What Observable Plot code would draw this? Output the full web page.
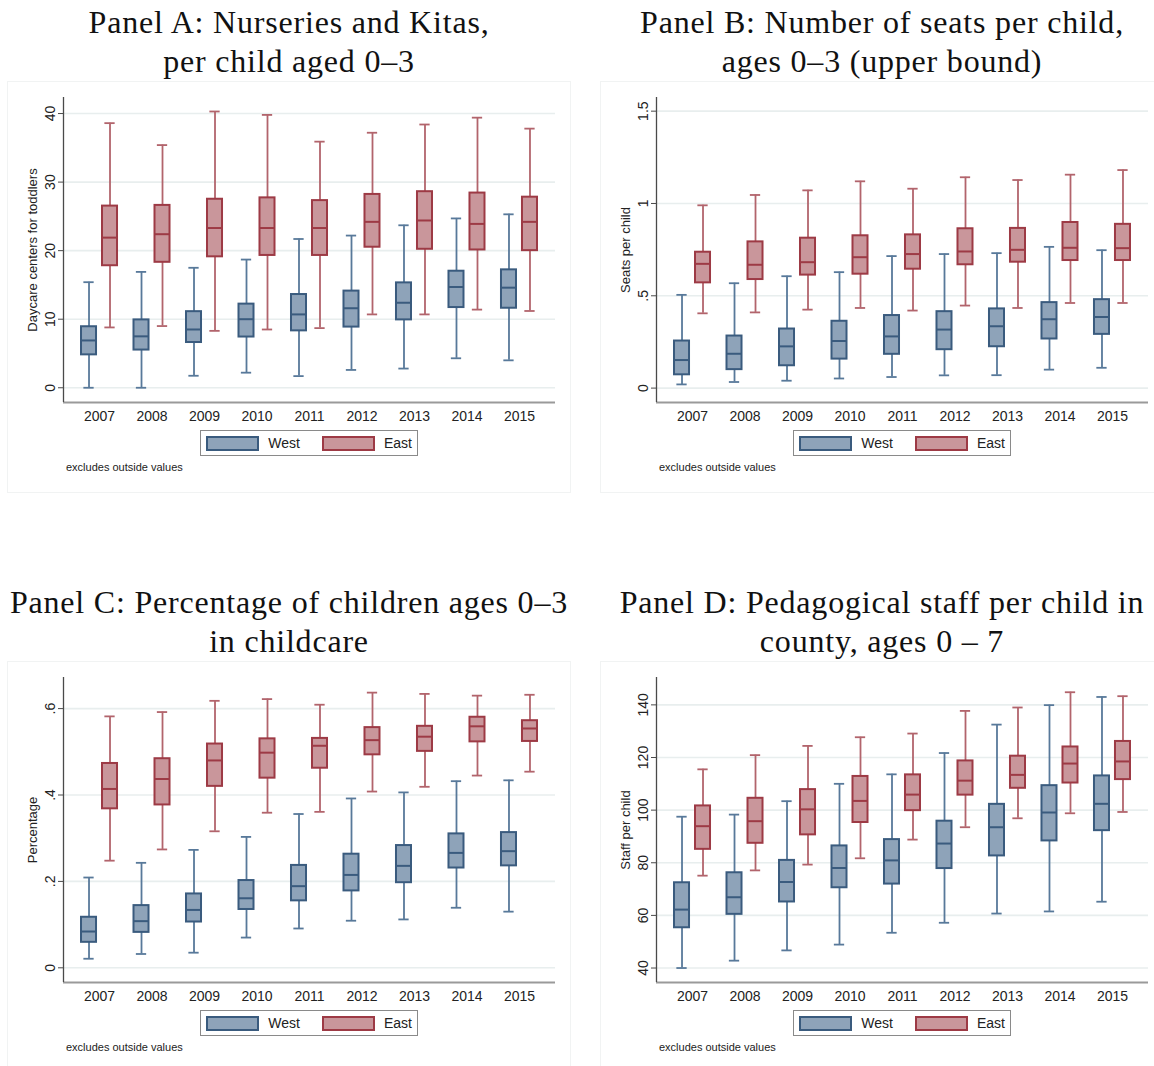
<!DOCTYPE html>
<html>
<head>
<meta charset="utf-8">
<script src="https://cdn.jsdelivr.net/npm/d3@7"></script>
<script src="https://cdn.jsdelivr.net/npm/@observablehq/plot@0.6"></script>
<style>
  html, body { margin: 0; padding: 0; background: #fff; }
  body { width: 1154px; height: 1066px; position: relative; overflow: hidden; }
  .title {
    position: absolute; width: 578px; text-align: center;
    font-family: "Liberation Serif", "DejaVu Serif", serif;
    font-size: 32px; line-height: 39px; letter-spacing: 0.8px; color: #111;
    white-space: nowrap;
  }
  .panel { position: absolute; width: 562px; height: 410px; outline: 1px solid #f1f3f3; }
  .panel svg { position: absolute; left: 0; top: 0; }
  .legend {
    position: absolute; height: 26px; border: 1px solid #8a8a8a; background: #fff;
    display: flex; align-items: center; padding: 0 5px; box-sizing: border-box;
    font-family: "Liberation Sans", Arial, sans-serif; font-size: 14px; color: #222;
  }
  .legend .sw { width: 50px; height: 11px; border: 2px solid; margin-right: 9px; }
  .legend .lab { margin-right: 22px; }
  .legend .lab:last-child { margin-right: 0; }
  .note {
    position: absolute; font-family: "Liberation Sans", Arial, sans-serif;
    font-size: 11px; color: #222;
  }
</style>
</head>
<body>
<script>
// Years on the x axis
const years = [2007, 2008, 2009, 2010, 2011, 2012, 2013, 2014, 2015];

// Panel A: daycare centers per child aged 0-3 (box plot summaries)
const aWestLo  = [0, 0, 1.75, 2.2, 1.7, 2.6, 2.8, 4.3, 4.0];
const aWestQ1  = [4.8, 5.5, 6.6, 7.4, 8.3, 8.85, 9.9, 11.7, 11.6];
const aWestMed = [6.9, 7.5, 8.5, 10.0, 10.7, 11.6, 12.4, 14.7, 14.6];
const aWestQ3  = [8.9, 9.9, 11.1, 12.2, 13.6, 14.1, 15.3, 17.0, 17.2];
const aWestHi  = [15.4, 16.9, 17.5, 18.7, 21.7, 22.2, 23.7, 24.7, 25.3];
const aEastLo  = [8.8, 9.0, 8.3, 8.5, 8.7, 10.7, 10.7, 11.4, 11.2];
const aEastQ1  = [17.8, 18.3, 19.1, 19.3, 19.3, 20.5, 20.2, 20.1, 20.0];
const aEastMed = [21.9, 22.4, 23.3, 23.3, 23.3, 24.2, 24.4, 23.9, 24.2];
const aEastQ3  = [26.5, 26.6, 27.5, 27.7, 27.3, 28.2, 28.6, 28.4, 27.8];
const aEastHi  = [38.6, 35.4, 40.3, 39.8, 35.9, 37.2, 38.4, 39.4, 37.8];

// Panel B: seats per child aged 0-3
const bWestLo  = [0.02, 0.033, 0.04, 0.052, 0.06, 0.069, 0.07, 0.10, 0.11];
const bWestQ1  = [0.072, 0.10, 0.121, 0.157, 0.183, 0.208, 0.224, 0.266, 0.291];
const bWestMed = [0.152, 0.186, 0.226, 0.255, 0.28, 0.317, 0.335, 0.373, 0.385];
const bWestQ3  = [0.255, 0.282, 0.32, 0.362, 0.393, 0.414, 0.429, 0.463, 0.479];
const bWestHi  = [0.505, 0.568, 0.606, 0.628, 0.715, 0.726, 0.731, 0.765, 0.747];
const bEastLo  = [0.405, 0.41, 0.425, 0.434, 0.42, 0.447, 0.434, 0.461, 0.461];
const bEastQ1  = [0.570, 0.588, 0.612, 0.617, 0.644, 0.668, 0.682, 0.691, 0.691];
const bEastMed = [0.673, 0.668, 0.682, 0.709, 0.726, 0.74, 0.749, 0.76, 0.758];
const bEastQ3  = [0.736, 0.792, 0.812, 0.825, 0.83, 0.863, 0.865, 0.897, 0.887];
const bEastHi  = [0.99, 1.046, 1.071, 1.12, 1.08, 1.142, 1.127, 1.156, 1.181];

// Panel C: share of children aged 0-3 in childcare
const cWestLo  = [0.021, 0.032, 0.035, 0.07, 0.091, 0.109, 0.112, 0.139, 0.13];
const cWestQ1  = [0.059, 0.082, 0.106, 0.135, 0.155, 0.178, 0.197, 0.231, 0.236];
const cWestMed = [0.084, 0.108, 0.134, 0.161, 0.189, 0.215, 0.236, 0.266, 0.27];
const cWestQ3  = [0.117, 0.144, 0.171, 0.202, 0.237, 0.263, 0.283, 0.31, 0.313];
const cWestHi  = [0.209, 0.243, 0.273, 0.303, 0.356, 0.392, 0.406, 0.432, 0.434];
const cEastLo  = [0.248, 0.274, 0.316, 0.359, 0.361, 0.408, 0.419, 0.445, 0.454];
const cEastQ1  = [0.368, 0.377, 0.42, 0.439, 0.462, 0.493, 0.501, 0.523, 0.524];
const cEastMed = [0.414, 0.437, 0.48, 0.498, 0.514, 0.527, 0.535, 0.559, 0.554];
const cEastQ3  = [0.473, 0.484, 0.518, 0.53, 0.531, 0.556, 0.559, 0.58, 0.572];
const cEastHi  = [0.582, 0.592, 0.618, 0.622, 0.609, 0.637, 0.634, 0.63, 0.632];

// Panel D: pedagogical staff per child aged 0-7
const dWestLo  = [40.0, 42.8, 46.7, 48.9, 53.4, 57.2, 60.7, 61.5, 65.2];
const dWestQ1  = [55.3, 60.4, 65.1, 70.5, 71.9, 77.8, 82.6, 88.3, 92.2];
const dWestMed = [62.2, 66.9, 72.7, 78.0, 80.9, 87.3, 93.5, 99.1, 102.4];
const dWestQ3  = [72.4, 76.2, 80.9, 86.4, 88.8, 95.8, 102.2, 109.3, 113.0];
const dWestHi  = [97.5, 98.3, 103.4, 110.0, 113.6, 121.7, 132.5, 139.9, 143.0];
const dEastLo  = [75.1, 77.1, 79.3, 81.7, 88.8, 93.5, 96.9, 98.8, 99.3];
const dEastQ1  = [85.1, 87.4, 90.6, 95.3, 99.8, 105.7, 108.3, 110.3, 111.6];
const dEastMed = [93.9, 95.8, 100.3, 103.5, 105.9, 111.2, 113.4, 117.7, 118.5];
const dEastQ3  = [101.6, 104.5, 107.8, 112.8, 113.4, 118.7, 120.5, 124.0, 126.1];
const dEastHi  = [115.5, 120.9, 124.4, 127.7, 129.1, 137.7, 139.0, 144.8, 143.3];

// Group styling
const groups = ["West", "East"];
const fillColor    = {West: "#8ea3b9", East: "#c9969b"};
const strokeColor  = {West: "#3a5b7e", East: "#9d3a45"};
const whiskerColor = {West: "#58799a", East: "#b2646c"};

// Horizontal layout in year units
const groupOffset = {West: -0.2, East: 0.2};
const boxHalf = 0.143;
const capHalf = 0.098;
const xPad = 0.686;

function rows(west, east) {
  const out = [];
  years.forEach((year, i) => {
    out.push({year, group: "West", lo: west[0][i], q1: west[1][i], med: west[2][i], q3: west[3][i], hi: west[4][i]});
    out.push({year, group: "East", lo: east[0][i], q1: east[1][i], med: east[2][i], q3: east[3][i], hi: east[4][i]});
  });
  return out;
}

const panels = [
  {
    title: ["Panel A: Nurseries and Kitas,", "per child aged 0–3"],
    ylabel: "Daycare centers for toddlers",
    domain: [-2.15, 42.34], ticks: [0, 10, 20, 30, 40], fmt: d => String(d),
    data: rows([aWestLo, aWestQ1, aWestMed, aWestQ3, aWestHi], [aEastLo, aEastQ1, aEastMed, aEastQ3, aEastHi]),
    col: 0, row: 0
  },
  {
    title: ["Panel B: Number of seats per child,", "ages 0–3 (upper bound)"],
    ylabel: "Seats per child",
    domain: [-0.078, 1.574], ticks: [0, 0.5, 1, 1.5], fmt: d => String(d).replace(/^0\./, "."),
    data: rows([bWestLo, bWestQ1, bWestMed, bWestQ3, bWestHi], [bEastLo, bEastQ1, bEastMed, bEastQ3, bEastHi]),
    col: 1, row: 0
  },
  {
    title: ["Panel C: Percentage of children ages 0–3", "in childcare"],
    ylabel: "Percentage",
    domain: [-0.034, 0.672], ticks: [0, 0.2, 0.4, 0.6], fmt: d => String(d).replace(/^0\./, "."),
    data: rows([cWestLo, cWestQ1, cWestMed, cWestQ3, cWestHi], [cEastLo, cEastQ1, cEastMed, cEastQ3, cEastHi]),
    col: 0, row: 1
  },
  {
    title: ["Panel D: Pedagogical staff per child in", "county, ages 0 – 7"],
    ylabel: "Staff per child",
    domain: [34.5, 150.4], ticks: [40, 60, 80, 100, 120, 140], fmt: d => String(d),
    data: rows([dWestLo, dWestQ1, dWestMed, dWestQ3, dWestHi], [dEastLo, dEastQ1, dEastMed, dEastQ3, dEastHi]),
    col: 1, row: 1
  }
];

const xc = d => d.year + groupOffset[d.group];

function drawPanel(p) {
  const ox = 593 * p.col, oy = 580 * p.row;

  const title = document.createElement("div");
  title.className = "title";
  title.style.left = ox + "px";
  title.style.top = (oy + 3) + "px";
  title.innerHTML = p.title.join("<br>");
  document.body.appendChild(title);

  const box = document.createElement("div");
  box.className = "panel";
  box.style.left = (ox + 8) + "px";
  box.style.top = (oy + 82) + "px";
  document.body.appendChild(box);

  const xDomain = [years[0] - xPad, years[years.length - 1] + xPad];

  const chart = Plot.plot({
    width: 562, height: 346,
    marginLeft: 55, marginRight: 15, marginTop: 15, marginBottom: 26,
    style: {fontFamily: "'Liberation Sans', Arial, sans-serif", fontSize: "14px", color: "#222", background: "transparent", overflow: "visible"},
    x: {domain: xDomain, axis: null},
    y: {domain: p.domain, axis: null},
    marks: [
      Plot.gridY(p.ticks, {stroke: "#e8eeee", strokeOpacity: 1, strokeWidth: 1.6}),
      // whiskers
      Plot.ruleX(p.data, {x: xc, y1: "q3", y2: "hi", stroke: d => whiskerColor[d.group], strokeWidth: 1.8}),
      Plot.ruleX(p.data, {x: xc, y1: "lo", y2: "q1", stroke: d => whiskerColor[d.group], strokeWidth: 1.8}),
      Plot.ruleY(p.data, {y: "hi", x1: d => xc(d) - capHalf, x2: d => xc(d) + capHalf, stroke: d => whiskerColor[d.group], strokeWidth: 1.8}),
      Plot.ruleY(p.data, {y: "lo", x1: d => xc(d) - capHalf, x2: d => xc(d) + capHalf, stroke: d => whiskerColor[d.group], strokeWidth: 1.8}),
      // boxes and medians
      Plot.rect(p.data, {x1: d => xc(d) - boxHalf, x2: d => xc(d) + boxHalf, y1: "q1", y2: "q3",
        fill: d => fillColor[d.group], stroke: d => strokeColor[d.group], strokeWidth: 2}),
      Plot.ruleY(p.data, {y: "med", x1: d => xc(d) - boxHalf, x2: d => xc(d) + boxHalf, stroke: d => strokeColor[d.group], strokeWidth: 2}),
      // axes
      Plot.ruleY([p.domain[0]], {stroke: "#9a9a9a", strokeWidth: 2}),
      Plot.ruleX([xDomain[0]], {stroke: "#4a4a4a", strokeWidth: 1.3}),
      Plot.axisY(p.ticks, {tickSize: 5, tickPadding: 4, tickRotate: -90, tickFormat: p.fmt, label: null, stroke: "#4a4a4a", fontSize: 14}),
      Plot.axisX(years, {tickSize: 0, tickPadding: 9, tickFormat: "d", label: null, fontSize: 14}),
      Plot.text([p.ylabel], {frameAnchor: "left", textAnchor: "middle", rotate: -90, dx: -31, fontSize: 13, fill: "#222"})
    ]
  });
  box.appendChild(chart);

  const legend = document.createElement("div");
  legend.className = "legend";
  legend.style.left = "192px";
  legend.style.top = "348px";
  legend.style.width = "218px";
  groups.forEach(g => {
    const sw = document.createElement("span");
    sw.className = "sw";
    sw.style.background = fillColor[g];
    sw.style.borderColor = strokeColor[g];
    legend.appendChild(sw);
    const lab = document.createElement("span");
    lab.className = "lab";
    lab.textContent = g;
    legend.appendChild(lab);
  });
  box.appendChild(legend);

  const note = document.createElement("div");
  note.className = "note";
  note.style.left = "58px";
  note.style.top = "379px";
  note.textContent = "excludes outside values";
  box.appendChild(note);
}

panels.forEach(drawPanel);
</script>
</body>
</html>
